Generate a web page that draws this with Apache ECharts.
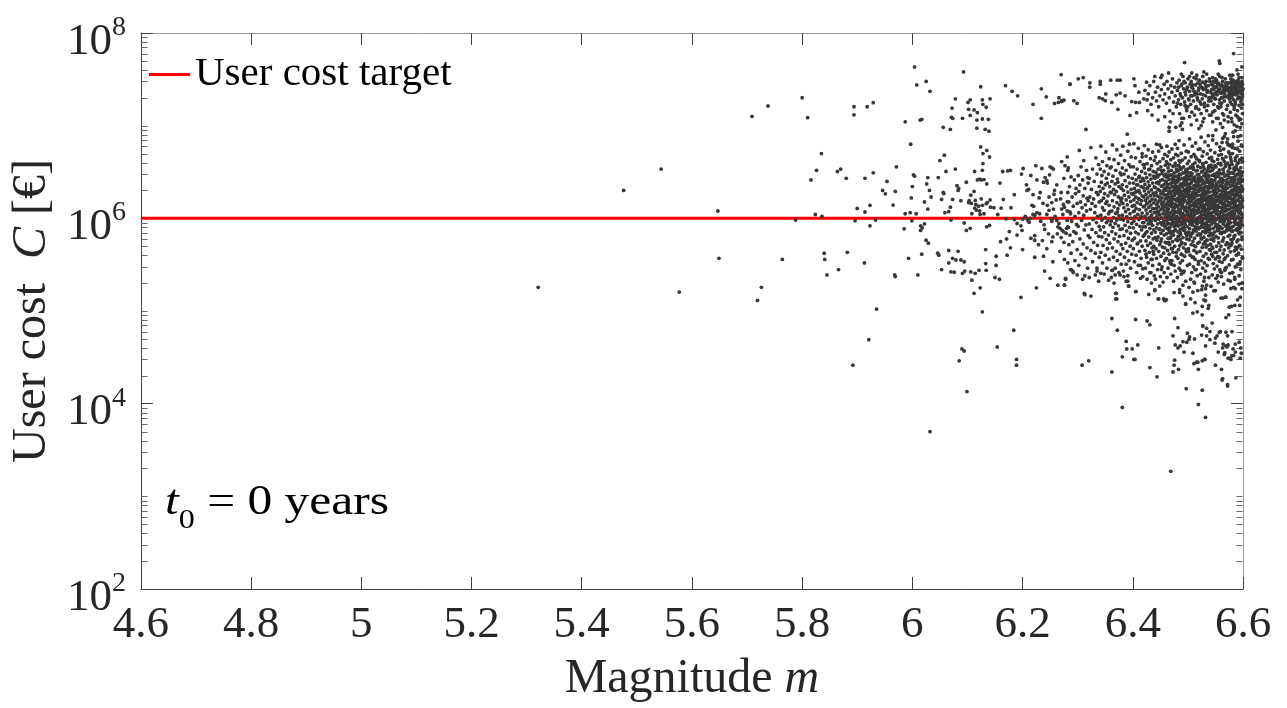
<!DOCTYPE html>
<html>
<head>
<meta charset="utf-8">
<title>User cost vs magnitude</title>
<script src="https://cdn.jsdelivr.net/npm/echarts/dist/echarts.min.js"></script>
<style>
  html, body { margin: 0; padding: 0; background: #ffffff; }
  #chart { width: 1287px; height: 708px; }
</style>
</head>
<body>
<div id="chart"></div>
<script>
// ---- axis settings ----
const magnitudeRange = [4.6, 6.6];
const magnitudeStep = 0.2;
const costRange = [1e2, 1e8];
const costLabelStepDecades = 2;
const minorTickMantissas = [1, 2, 3, 4, 5, 6, 7, 8, 9];
const minorTickDecades = [2, 3, 4, 5, 6, 7];

// ---- target line ----
const targetCost = 1e6;

// ---- simulated events: [magnitude m, user cost C in €] ----
const sparseLeft = [
  [5.321,1.8e5],[5.476,2.0e6],[5.544,3.4e6],[5.577,1.6e5],[5.647,1.2e6],[5.649,3.7e5],[5.709,1.26e7],[5.738,1.63e7],
  [5.726,1.8e5],[5.719,1.3e5],[5.764,3.6e5],[5.788,9.6e5],[5.800,2.0e7],[5.810,1.22e7],[5.835,5.0e6],[5.816,2.6e6],
  [5.826,3.3e6],[5.824,1.1e6],[5.836,1.05e6],[5.840,4.2e5],[5.841,3.6e5],[5.845,2.45e5],[5.866,2.8e5],[5.882,4.3e5],
  [5.913,3.3e5],[5.892,2.6e4],[5.921,4.9e4],[5.935,1.05e5],[5.968,2.45e5],[5.969,2.35e5],[5.864,3.2e6],[5.870,3.4e6],
  [5.880,2.7e6],[5.894,1.6e7],[5.894,1.31e7],[5.918,1.6e7],[5.929,1.77e7],[5.914,2.7e6],[5.929,3.1e6],[5.900,1.28e6],
  [5.914,1.17e6],[5.923,1.38e6],[5.896,9.4e5],[5.923,8.3e5],[5.933,9.6e5],[5.954,2.5e6],[5.946,2.0e6],[5.951,1.84e6],
  [5.969,1.95e6],[5.965,1.39e6],[5.971,3.6e6]
];

const midScatter = [
  [6.004,4.3e7],[6.008,2.75e7],[6.025,3.0e7],[6.032,2.35e7],[6.093,3.8e7],[5.987,1.1e7],[6.014,1.15e7],[6.017,1.17e7],
  [5.997,6.3e6],[5.987,1.12e6],[5.996,1.15e6],[6.007,1.12e6],[6.002,2.95e6],[6.004,2.85e6],[6.000,2.2e6],[5.998,1.66e6],
  [6.028,2.75e6],[6.026,2.35e6],[6.031,2.0e6],[6.034,1.7e6],[6.022,1.5e6],[6.028,1.26e6],[6.050,4.2e6],[6.058,4.8e6],
  [6.047,2.75e6],[6.061,3.2e6],[6.056,1.9e6],[6.057,1.85e6],[6.053,1.6e6],[6.059,1.15e6],[6.066,1.18e6],[6.069,1.32e6],
  [6.073,1.6e6],[6.078,3.4e6],[6.081,2.25e6],[6.084,2.1e6],[6.083,2.0e6],[6.088,1.55e6],[6.098,2.45e6],[6.078,1.95e7],
  [6.072,1.55e7],[6.071,1.23e7],[6.073,1.2e7],[6.056,9.6e6],[6.069,9.1e6],[6.091,1.2e7],[6.101,1.78e7],[6.105,1.9e7],
  [6.102,1.5e7],[6.105,1.29e7],[6.112,1.48e7],[6.118,1.38e7],[6.124,2.63e7],[6.127,1.9e7],[6.141,1.95e7],[6.128,1.7e7],
  [6.134,1.58e7],[6.117,1.15e7],[6.127,1.18e7],[6.138,1.17e7],[6.117,9.4e6],[6.132,9.1e6],[6.139,8.7e6],[6.124,5.9e6],
  [6.128,5.0e6],[6.135,5.4e6],[6.140,4.6e6],[6.128,3.9e6],[6.127,3.3e6],[6.113,3.2e6],[6.118,2.6e6],[6.122,2.65e6],
  [6.125,2.6e6],[6.130,2.62e6],[6.135,2.35e6],[6.112,1.95e6],[6.106,1.78e6],[6.103,1.55e6],[6.114,1.56e6],[6.115,1.41e6],
  [6.102,1.48e6],[6.107,1.45e6],[6.113,1.29e6],[6.116,1.23e6],[6.125,1.62e6],[6.136,1.48e6],[6.141,1.58e6],[6.120,1.35e6],
  [6.127,1.38e6],[6.122,1.2e6],[6.130,1.12e6],[6.123,1.1e6],[6.108,1.12e6],[6.142,1.32e6],[6.134,1.44e6],[6.159,2.4e6],
  [6.164,3.2e6],[6.173,3.25e6],[6.178,3.3e6],[6.161,1.29e6],[6.169,2.7e7],[6.181,2.35e7],[6.191,2.1e7],[6.198,3.0e6],
  [6.201,3.45e6],[6.179,1.3e6],[6.208,2.0e6],[6.211,2.05e6],[6.215,2.9e6],[6.219,1.8e6],[6.217,1.38e6],[6.220,1.35e6],
  [6.219,1.7e7],[6.234,2.5e7],[6.234,1.2e7],[6.243,2.05e7],[6.258,1.74e7],[6.265,1.78e7],[6.271,1.82e7],[6.275,1.88e7],
  [6.266,2.0e7],[6.270,3.55e7],[6.286,2.8e7],[6.224,3.7e6],[6.235,3.45e6],[6.250,3.6e6],[6.253,3.5e6],[6.256,3.4e6],
  [6.249,2.95e6],[6.241,2.75e6],[6.244,2.55e6],[6.245,2.4e6],[6.238,2.45e6],[6.271,4.1e6],[6.277,3.7e6],[6.282,3.3e6],
  [6.258,2.0e6],[6.257,1.82e6],[6.270,1.9e6],[6.230,1.66e6],[6.245,1.38e6],[6.237,1.45e6],[6.253,1.48e6],[6.256,1.26e6],
  [6.261,1.58e6],[6.274,1.41e6],[6.276,1.32e6],[6.281,1.51e6],[6.271,1.26e6],[6.286,1.17e6],[6.219,1.1e6],[6.222,1.08e6],
  [6.231,1.12e6],[6.244,1.1e6],[6.253,9.8e5],
  [5.985,7.7e5],[5.999,9.4e5],[6.015,8.3e5],[6.018,7.9e5],[6.015,7.4e5],[6.022,8.7e5],[6.025,5.8e5],[6.029,5.4e5],
  [5.993,3.7e5],[6.017,4.1e5],[6.010,2.45e5],[6.046,4.2e5],[6.048,4.0e5],[6.053,2.8e5],[6.066,4.5e5],[6.073,3.7e5],
  [6.079,3.55e5],[6.066,3.3e5],[6.083,4.4e5],[6.088,3.55e5],[6.094,3.4e5],[6.070,2.65e5],[6.076,2.62e5],[6.091,2.55e5],
  [6.095,2.7e5],[6.106,2.65e5],[6.114,2.55e5],[6.121,2.75e5],[6.108,2.15e5],[6.112,1.55e5],[6.123,1.78e5],[6.133,4.6e5],
  [6.133,3.25e5],[6.134,2.75e5],[6.127,9.8e4],[6.094,8.9e5],[6.098,7.4e5],[6.105,7.8e5],[6.135,8.1e5],[6.140,8.4e5],
  [6.070,9.6e5],[6.152,3.9e5],[6.152,3.1e5],[6.150,2.3e5],[6.158,2.2e5],[6.171,6.0e5],[6.172,4.0e5],[6.178,4.8e5],
  [6.190,6.6e5],[6.197,8.3e5],[6.199,7.4e5],[6.200,4.6e5],[6.197,1.4e5],[6.184,6.2e4],[6.154,4.1e4],[6.090,3.9e4],
  [6.094,3.7e4],[6.085,2.9e4],[6.099,1.35e4],[6.189,3.0e4],[6.189,2.6e4],[6.170,9.9e5],[6.185,9.7e5],[6.200,9.8e5],
  [6.209,9.6e5],[6.214,1.0e6],[6.222,6.5e5],[6.222,5.8e5],[6.236,5.75e5],[6.239,8.5e5],[6.222,3.8e5],[6.238,3.9e5],
  [6.240,2.7e5],[6.225,1.78e5],[6.247,6.8e5],[6.255,6.3e5],[6.253,5.6e5],[6.250,2.25e5],[6.264,1.9e5],[6.276,1.9e5],
  [6.278,2.25e5],[6.264,8.1e5],[6.268,7.8e5],[6.272,7.4e5],[6.274,7.2e5],[6.279,6.9e5],[6.270,6.2e5],[6.275,5.5e5],
  [6.282,8.1e5],[6.287,2.8e5],[6.253,9.3e5],[6.262,9.5e5],[6.281,9.5e5],[6.032,5.0e3],
  [6.205,1.05e6],[6.212,9.1e5],[6.226,1.15e6],[6.233,9.3e5],[6.248,1.22e6],[6.259,1.05e6],[6.266,8.8e5],[6.273,1.1e6],
  [6.240,7.6e5],[6.263,6.8e5],[6.280,7.8e5],[6.215,6.1e5],[6.229,5.2e5],[6.244,4.7e5],[6.268,4.4e5],[6.276,3.6e5],
  [6.255,3.4e5],[6.207,2.3e6],[6.226,2.6e6],[6.262,2.3e6],[6.275,2.7e6],[6.269,1.62e6],[6.248,1.7e6],[6.232,1.9e6],
  [6.155,1.1e6],[6.165,1.6e6],[6.185,1.8e6],[6.190,8.8e5],[6.176,7.2e5],[6.148,1.3e6],[6.160,5.6e5]
];

const upperBand = [
  [6.286,2.8e7],[6.301,3.2e7],[6.310,3.3e7],[6.322,2.9e7],[6.322,2.6e7],[6.341,3.0e7],[6.341,2.8e7],[6.360,3.1e7],
  [6.372,3.1e7],[6.377,3.1e7],[6.351,2.2e7],[6.339,2.0e7],[6.345,1.95e7],[6.350,1.86e7],[6.362,1.78e7],[6.370,2.15e7],
  [6.377,2.25e7],[6.386,2.1e7],[6.373,1.5e7],[6.395,1.29e7],[6.407,1.38e7],[6.315,9.1e6],[6.390,8.1e6],[6.394,6.3e6],
  [6.293,1.86e7],[6.299,1.74e7],[6.271,1.86e7],[6.402,3.2e7],[6.404,2.7e7],[6.411,2.3e7],[6.425,2.95e7],[6.398,1.82e7],
  [6.405,1.78e7],[6.412,1.78e7],[6.420,1.95e7],
  [6.422,2.4e7],[6.426,1.9e7],[6.428,2.2e7],[6.431,2.7e7],[6.433,1.7e7],[6.436,2.0e7],[6.438,3.0e7],[6.441,2.3e7],
  [6.443,1.85e7],[6.445,2.6e7],[6.447,1.6e7],[6.449,2.1e7],[6.451,3.3e7],[6.452,2.45e7],[6.455,1.9e7],[6.457,2.8e7],
  [6.458,2.2e7],[6.461,1.75e7],[6.462,3.0e7],[6.464,2.5e7],[6.466,2.0e7],[6.467,1.45e7],[6.469,2.7e7],[6.471,2.3e7],
  [6.472,3.2e7],[6.474,1.8e7],[6.476,2.6e7],[6.477,2.1e7],[6.479,1.6e7],[6.480,2.9e7],[6.435,1.3e7],[6.446,1.15e7],
  [6.458,1.25e7],[6.468,1.1e7],[6.473,1.35e7],[6.478,9.6e6],[6.465,3.7e7],[6.453,3.5e7],[6.427,1.45e7],[6.440,3.4e7],
  [6.449,6.2e6],[6.477,6.3e6],[6.466,9.6e6],[6.466,8.7e6],[6.489,1.07e7],[6.486,1.0e7],[6.490,9.1e6],[6.489,1.2e7],
  [6.506,1.02e7],[6.520,9.3e6],[6.524,1.0e7],[6.527,1.1e7],[6.537,7.8e6],[6.545,7.8e6],[6.563,9.6e6],[6.562,6.6e6],
  [6.575,6.2e6],[6.581,6.3e6],[6.581,5.8e6],[6.598,6.0e6],[6.579,1.2e7],[6.584,1.02e7],[6.589,9.8e6],[6.593,1.15e7],
  [6.596,1.17e7],
  [6.494,4.8e7],[6.557,5.0e7],[6.558,4.7e7],[6.583,6.0e7],[6.529,3.8e7],[6.598,4.3e7],[6.581,3.5e7],
  [6.481,2.4e7],[6.483,1.9e7],[6.484,3.1e7],[6.486,2.2e7],[6.487,1.7e7],[6.488,2.7e7],[6.490,2.0e7],[6.491,3.4e7],
  [6.492,2.5e7],[6.494,1.8e7],[6.495,2.9e7],[6.496,2.15e7],[6.497,1.55e7],[6.499,2.6e7],[6.500,3.2e7],[6.501,1.95e7],
  [6.503,2.35e7],[6.504,2.8e7],[6.505,1.7e7],[6.506,3.0e7],[6.508,2.1e7],[6.509,2.5e7],[6.510,1.85e7],[6.511,3.3e7],
  [6.513,2.3e7],[6.514,2.75e7],[6.515,1.6e7],[6.517,2.0e7],[6.518,2.9e7],[6.519,2.4e7],[6.521,3.1e7],[6.522,1.8e7],
  [6.523,2.2e7],[6.525,2.6e7],[6.526,1.95e7],[6.527,3.4e7],[6.528,2.45e7],[6.530,1.75e7],[6.531,2.85e7],[6.532,2.1e7],
  [6.533,3.0e7],[6.535,2.3e7],[6.536,1.65e7],[6.537,2.7e7],[6.538,2.0e7],[6.539,3.2e7],[6.485,1.35e7],[6.492,1.2e7],
  [6.498,1.45e7],[6.503,1.25e7],[6.507,1.4e7],[6.512,1.3e7],[6.516,1.15e7],[6.520,1.5e7],[6.524,1.35e7],[6.529,1.2e7],
  [6.534,1.45e7],[6.539,1.3e7],[6.488,3.6e7],[6.507,3.7e7],[6.516,3.5e7],[6.534,3.6e7],[6.495,2.3e7],[6.512,2.15e7],
  [6.526,2.55e7],[6.500,1.6e7],
  [6.541,2.3e7],[6.542,1.85e7],[6.543,2.8e7],[6.544,2.05e7],[6.545,3.3e7],[6.546,2.5e7],[6.547,1.7e7],[6.548,2.2e7],
  [6.549,2.95e7],[6.550,1.95e7],[6.551,2.6e7],[6.552,3.1e7],[6.553,2.15e7],[6.554,1.6e7],[6.555,2.4e7],[6.556,2.85e7],
  [6.557,1.9e7],[6.558,3.4e7],[6.559,2.25e7],[6.560,2.7e7],[6.561,1.75e7],[6.562,2.0e7],[6.563,3.0e7],[6.564,2.4e7],
  [6.565,2.6e7],[6.566,1.85e7],[6.567,2.2e7],[6.568,3.2e7],[6.569,2.75e7],[6.570,2.05e7],[6.571,2.45e7],[6.572,1.65e7],
  [6.573,2.9e7],[6.574,2.1e7],[6.575,2.55e7],[6.576,3.5e7],[6.577,1.8e7],[6.578,2.3e7],[6.579,2.8e7],[6.580,2.0e7],
  [6.581,2.6e7],[6.582,3.1e7],[6.583,1.9e7],[6.584,2.35e7],[6.585,2.7e7],[6.586,1.7e7],[6.587,2.15e7],[6.588,3.0e7],
  [6.589,2.5e7],[6.590,1.95e7],[6.591,2.25e7],[6.592,2.85e7],[6.593,3.3e7],[6.594,2.0e7],[6.595,2.4e7],[6.596,1.8e7],
  [6.597,2.65e7],[6.598,3.0e7],[6.599,2.2e7],[6.600,2.5e7],
  [6.542,1.3e7],[6.545,1.1e7],[6.549,1.45e7],[6.552,1.2e7],[6.556,1.55e7],[6.559,1.05e7],[6.563,1.35e7],[6.566,1.15e7],
  [6.570,1.5e7],[6.573,1.25e7],[6.577,1.4e7],[6.580,1.1e7],[6.584,1.6e7],[6.587,1.3e7],[6.590,1.45e7],[6.593,1.2e7],
  [6.597,1.55e7],[6.599,1.35e7],[6.551,9.0e6],[6.568,8.2e6],[6.586,8.8e6],[6.595,9.5e6],[6.572,7.2e6],[6.591,7.6e6],
  [6.543,2.45e7],[6.547,2.1e7],[6.551,2.3e7],[6.554,2.75e7],[6.558,2.5e7],[6.561,2.25e7],[6.565,2.05e7],[6.568,2.4e7],
  [6.572,2.6e7],[6.575,2.2e7],[6.579,2.45e7],[6.583,2.2e7],[6.586,2.5e7],[6.590,2.35e7],[6.594,2.6e7],[6.597,2.2e7],
  [6.599,2.8e7],[6.546,3.0e7],[6.562,3.3e7],[6.578,3.2e7],[6.591,3.6e7],[6.555,3.6e7],[6.589,4.0e7]
];

const bandExtra = [
  [6.483,2.6e7],[6.517,2.2e7],[6.546,2.7e7],[6.574,2.35e7],[6.596,2.9e7],[6.502,1.9e7],[6.531,2.5e7],[6.561,2.0e7],
  [6.588,2.6e7],[6.493,3.0e7],[6.524,1.7e7],[6.553,2.9e7],[6.581,2.15e7],[6.599,2.4e7],[6.509,2.75e7],[6.538,1.85e7],
  [6.567,2.55e7],[6.592,2.05e7],[6.487,2.1e7],[6.515,3.2e7],[6.544,2.2e7],[6.572,2.85e7],[6.586,1.8e7],[6.498,2.45e7],
  [6.527,2.95e7],[6.556,2.35e7],[6.579,3.0e7],[6.594,2.7e7],[6.505,2.1e7],[6.533,2.65e7],[6.562,2.75e7],[6.589,2.25e7],
  [6.481,1.75e7],[6.520,2.55e7],[6.549,1.95e7],[6.577,2.1e7],[6.598,3.3e7],[6.511,2.35e7],[6.540,3.0e7],[6.569,2.9e7],
  [6.585,2.9e7],[6.495,1.65e7],[6.528,2.15e7],[6.558,1.75e7],[6.583,2.5e7],[6.597,1.9e7],[6.503,3.4e7],[6.535,2.4e7],
  [6.564,2.3e7],[6.591,3.1e7],[6.514,1.55e7],[6.547,2.45e7],[6.575,1.95e7],[6.599,2.05e7],[6.489,2.8e7],[6.522,2.8e7],
  [6.552,2.6e7],[6.580,1.7e7],[6.595,2.3e7],[6.507,2.6e7],[6.542,2.0e7],[6.570,2.7e7],[6.588,2.8e7],[6.518,1.9e7],
  [6.550,3.2e7],[6.577,2.55e7],[6.593,1.65e7],[6.530,1.6e7],[6.560,1.6e7],[6.584,1.5e7],[6.599,1.7e7],[6.565,1.3e7],
  [6.545,1.4e7],[6.590,1.25e7],[6.573,1.1e7],[6.598,1.05e7],[6.555,1.2e7],[6.582,8.5e6],[6.596,7.8e6],[6.566,7.6e6]
];

const coreCloud = [
  [6.281,4.6e6],[6.283,3.5e6],[6.288,2.8e6],[6.285,2.2e6],[6.294,2.6e6],[6.297,2.1e6],[6.282,1.9e6],[6.290,1.7e6],
  [6.296,1.85e6],[6.284,1.5e6],[6.292,1.35e6],[6.299,1.45e6],[6.287,1.12e6],[6.295,1.05e6],[6.281,1.2e6],[6.289,9.3e5],
  [6.298,8.6e5],[6.283,8.0e5],[6.293,7.2e5],[6.286,6.6e5],[6.297,6.9e5],[6.291,5.6e5],[6.284,5.2e5],[6.299,4.6e5],
  [6.288,4.2e5],[6.295,3.5e5],[6.282,3.3e5],[6.292,2.6e5],
  [6.303,5.4e6],[6.311,4.2e6],[6.306,3.6e6],[6.316,3.3e6],[6.301,2.9e6],[6.309,2.6e6],[6.318,2.75e6],[6.304,2.3e6],
  [6.313,2.1e6],[6.319,2.4e6],[6.302,1.95e6],[6.310,1.75e6],[6.317,1.65e6],[6.305,1.5e6],[6.314,1.4e6],[6.308,1.3e6],
  [6.319,1.55e6],[6.302,1.15e6],[6.311,1.08e6],[6.316,1.2e6],[6.307,9.5e5],[6.315,8.5e5],[6.301,8.2e5],[6.312,7.5e5],
  [6.319,6.5e5],[6.304,6.0e5],[6.310,5.3e5],[6.317,4.8e5],[6.306,4.1e5],[6.314,3.7e5],[6.302,3.1e5],[6.318,2.9e5],
  [6.309,2.2e5],
  [6.324,5.8e6],[6.333,4.5e6],[6.338,3.8e6],[6.327,3.4e6],[6.335,3.0e6],[6.321,2.7e6],[6.330,2.5e6],[6.339,2.2e6],
  [6.325,2.05e6],[6.334,1.9e6],[6.322,1.7e6],[6.329,1.62e6],[6.337,1.8e6],[6.326,1.45e6],[6.332,1.35e6],[6.339,1.5e6],
  [6.323,1.25e6],[6.331,1.15e6],[6.336,1.05e6],[6.328,9.7e5],[6.334,9.0e5],[6.321,8.7e5],[6.339,8.2e5],[6.326,7.6e5],
  [6.333,7.0e5],[6.338,6.4e5],[6.322,6.2e5],[6.329,5.5e5],[6.336,5.1e5],[6.324,4.5e5],[6.332,4.2e5],[6.339,3.8e5],
  [6.327,3.4e5],[6.335,2.7e5],[6.321,2.3e5],[6.338,2.1e5],
  [6.342,6.0e6],[6.351,5.2e6],[6.357,4.4e6],[6.345,4.1e6],[6.353,3.7e6],[6.341,3.4e6],[6.348,3.2e6],[6.359,3.5e6],
  [6.344,2.9e6],[6.352,2.7e6],[6.356,3.0e6],[6.343,2.45e6],[6.350,2.3e6],[6.358,2.2e6],[6.346,2.1e6],[6.354,2.4e6],
  [6.341,1.95e6],[6.349,1.85e6],[6.355,1.75e6],[6.347,1.65e6],[6.359,1.9e6],[6.343,1.55e6],[6.351,1.45e6],[6.357,1.38e6],
  [6.345,1.3e6],[6.353,1.52e6],[6.348,1.22e6],[6.356,1.12e6],[6.342,1.08e6],[6.350,1.02e6],[6.358,1.18e6],[6.344,9.6e5],
  [6.352,9.0e5],[6.359,8.5e5],[6.347,8.1e5],[6.355,9.4e5],[6.341,7.5e5],[6.349,7.0e5],[6.356,6.6e5],[6.344,6.3e5],
  [6.352,5.9e5],[6.358,5.4e5],[6.346,5.1e5],[6.354,4.7e5],[6.342,4.3e5],[6.350,4.0e5],[6.357,3.6e5],[6.345,3.3e5],
  [6.353,2.9e5],[6.348,2.5e5],[6.356,2.15e5],
  [6.363,6.2e6],[6.371,5.5e6],[6.378,4.8e6],[6.366,4.3e6],[6.374,3.9e6],[6.361,3.6e6],[6.369,3.3e6],[6.377,3.1e6],
  [6.364,2.85e6],[6.372,2.65e6],[6.379,2.95e6],[6.362,2.5e6],[6.368,2.35e6],[6.375,2.2e6],[6.365,2.05e6],[6.373,2.45e6],
  [6.379,2.1e6],[6.361,1.9e6],[6.367,1.8e6],[6.374,1.7e6],[6.370,1.95e6],[6.378,1.62e6],[6.363,1.55e6],[6.371,1.48e6],
  [6.376,1.4e6],[6.366,1.33e6],[6.373,1.27e6],[6.379,1.52e6],[6.362,1.2e6],[6.369,1.13e6],[6.375,1.07e6],[6.365,1.02e6],
  [6.372,1.17e6],[6.378,9.8e5],[6.361,9.3e5],[6.368,8.8e5],[6.374,8.3e5],[6.364,8.0e5],[6.371,9.6e5],[6.377,7.6e5],
  [6.362,7.2e5],[6.369,6.8e5],[6.376,6.4e5],[6.366,6.0e5],[6.373,5.6e5],[6.379,5.2e5],[6.363,4.8e5],[6.370,4.4e5],
  [6.377,4.1e5],[6.365,3.8e5],[6.372,3.5e5],[6.379,3.2e5],[6.368,2.9e5],[6.375,2.6e5],[6.361,2.3e5],
  [6.382,6.0e6],[6.391,5.3e6],[6.397,4.6e6],[6.385,4.2e6],[6.393,3.8e6],[6.381,3.5e6],[6.388,3.3e6],[6.396,3.6e6],
  [6.384,3.0e6],[6.392,2.8e6],[6.399,2.7e6],[6.386,2.55e6],[6.394,2.4e6],[6.381,2.3e6],[6.389,2.2e6],[6.397,2.05e6],
  [6.383,2.0e6],[6.391,1.92e6],[6.398,1.85e6],[6.385,1.78e6],[6.393,1.7e6],[6.380,1.65e6],[6.388,1.58e6],[6.396,1.52e6],
  [6.382,1.45e6],[6.390,1.4e6],[6.399,1.35e6],[6.384,1.3e6],[6.392,1.25e6],[6.387,1.18e6],[6.395,1.12e6],[6.381,1.08e6],
  [6.389,1.04e6],[6.397,1.0e6],[6.383,9.6e5],[6.391,9.2e5],[6.398,8.8e5],[6.386,8.4e5],[6.394,8.0e5],[6.381,7.7e5],
  [6.389,7.3e5],[6.396,6.9e5],[6.384,6.5e5],[6.392,6.1e5],[6.399,5.8e5],[6.387,5.4e5],[6.395,5.0e5],[6.382,4.7e5],
  [6.390,4.4e5],[6.398,4.1e5],[6.385,3.8e5],[6.393,3.5e5],[6.388,3.2e5],[6.396,2.9e5],[6.383,2.7e5],[6.391,2.4e5],
  [6.402,6.4e6],[6.410,5.7e6],[6.417,5.0e6],[6.405,4.5e6],[6.413,4.1e6],[6.419,3.8e6],[6.401,3.6e6],[6.408,3.4e6],
  [6.416,3.2e6],[6.404,3.0e6],[6.412,2.85e6],[6.418,2.7e6],[6.406,2.6e6],[6.414,2.5e6],[6.401,2.4e6],[6.409,2.3e6],
  [6.415,2.2e6],[6.403,2.1e6],[6.411,2.0e6],[6.419,2.15e6],[6.407,1.95e6],[6.413,1.88e6],[6.400,1.82e6],[6.417,1.75e6],
  [6.405,1.7e6],[6.410,1.64e6],[6.402,1.58e6],[6.416,1.55e6],[6.408,1.48e6],[6.414,1.42e6],[6.403,1.38e6],[6.419,1.33e6],
  [6.406,1.28e6],[6.412,1.24e6],[6.401,1.18e6],[6.417,1.14e6],[6.409,1.1e6],[6.404,1.05e6],[6.415,1.02e6],[6.411,9.7e5],
  [6.402,9.3e5],[6.418,9.0e5],[6.407,8.6e5],[6.413,8.2e5],[6.401,7.9e5],[6.416,7.5e5],[6.405,7.1e5],[6.410,6.8e5],
  [6.419,6.4e5],[6.403,6.1e5],[6.414,5.7e5],[6.408,5.3e5],[6.417,5.0e5],[6.401,4.7e5],[6.412,4.4e5],[6.406,4.0e5],
  [6.415,3.7e5],[6.403,3.4e5],[6.410,3.1e5],[6.418,2.85e5],[6.407,2.6e5],[6.414,2.25e5],
  [6.421,6.1e6],[6.428,5.5e6],[6.436,5.2e6],[6.424,4.7e6],[6.432,4.4e6],[6.439,4.2e6],[6.426,3.9e6],[6.434,3.7e6],
  [6.421,3.5e6],[6.429,3.35e6],[6.437,3.2e6],[6.423,3.05e6],[6.431,2.95e6],[6.438,2.85e6],[6.425,2.75e6],[6.433,2.65e6],
  [6.420,2.55e6],[6.428,2.48e6],[6.436,2.4e6],[6.422,2.32e6],[6.430,2.25e6],[6.439,2.18e6],[6.426,2.1e6],[6.434,2.03e6],
  [6.421,1.98e6],[6.429,1.92e6],[6.437,1.87e6],[6.424,1.81e6],[6.432,1.76e6],[6.420,1.7e6],[6.427,1.66e6],[6.435,1.61e6],
  [6.423,1.56e6],[6.431,1.52e6],[6.438,1.47e6],[6.425,1.43e6],[6.433,1.39e6],[6.421,1.35e6],[6.429,1.31e6],[6.436,1.27e6],
  [6.424,1.23e6],[6.432,1.19e6],[6.439,1.15e6],[6.426,1.12e6],[6.434,1.08e6],[6.422,1.05e6],[6.430,1.02e6],[6.437,9.9e5],
  [6.425,9.6e5],[6.433,9.3e5],[6.420,9.0e5],[6.428,8.7e5],[6.436,8.4e5],[6.423,8.1e5],[6.431,7.8e5],[6.438,7.5e5],
  [6.426,7.2e5],[6.434,6.9e5],[6.421,6.6e5],[6.429,6.3e5],[6.437,6.0e5],[6.424,5.7e5],[6.432,5.4e5],[6.427,5.1e5],
  [6.435,4.8e5],[6.422,4.5e5],[6.430,4.3e5],[6.438,4.1e5],[6.425,3.8e5],[6.433,3.6e5],[6.428,3.3e5],[6.436,3.1e5],
  [6.423,2.9e5],[6.431,2.6e5],[6.439,2.4e5],[6.426,2.2e5],[6.434,2.0e5],
  [6.443,6.3e6],[6.452,5.8e6],[6.447,5.3e6],[6.458,4.9e6],[6.441,4.6e6],[6.455,4.4e6],[6.449,4.1e6],[6.444,3.9e6],
  [6.459,3.75e6],[6.451,3.6e6],[6.446,3.4e6],[6.456,3.3e6],[6.442,3.15e6],[6.453,3.05e6],[6.448,2.95e6],[6.457,2.88e6],
  [6.445,2.8e6],[6.440,2.7e6],[6.454,2.62e6],[6.450,2.55e6],[6.459,2.5e6],[6.443,2.42e6],[6.447,2.36e6],[6.456,2.3e6],
  [6.452,2.22e6],[6.441,2.15e6],[6.458,2.1e6],[6.446,2.05e6],[6.449,1.99e6],[6.455,1.94e6],[6.442,1.9e6],[6.451,1.84e6],
  [6.457,1.8e6],[6.444,1.75e6],[6.448,1.7e6],[6.453,1.66e6],[6.459,1.62e6],[6.441,1.58e6],[6.450,1.55e6],[6.456,1.5e6],
  [6.445,1.47e6],[6.452,1.43e6],[6.443,1.4e6],[6.458,1.37e6],[6.447,1.33e6],[6.454,1.3e6],[6.440,1.27e6],[6.451,1.24e6],
  [6.457,1.21e6],[6.446,1.18e6],[6.442,1.15e6],[6.455,1.12e6],[6.449,1.09e6],[6.444,1.06e6],[6.459,1.04e6],[6.452,1.01e6],
  [6.447,9.8e5],[6.441,9.5e5],[6.456,9.3e5],[6.450,9.0e5],[6.445,8.7e5],[6.453,8.5e5],[6.458,8.2e5],[6.443,7.9e5],
  [6.448,7.6e5],[6.455,7.4e5],[6.441,7.1e5],[6.451,6.9e5],[6.457,6.6e5],[6.446,6.3e5],[6.452,6.0e5],[6.444,5.8e5],
  [6.459,5.5e5],[6.449,5.2e5],[6.454,4.9e5],[6.442,4.7e5],[6.447,4.4e5],[6.456,4.2e5],[6.451,3.9e5],[6.443,3.7e5],
  [6.458,3.5e5],[6.448,3.2e5],[6.453,3.0e5],[6.445,2.8e5],[6.457,2.6e5],[6.450,2.35e5],[6.441,2.2e5],[6.455,2.05e5],
  [6.462,6.0e6],[6.471,5.6e6],[6.466,5.2e6],[6.478,4.9e6],[6.463,4.7e6],[6.474,4.5e6],[6.469,4.3e6],[6.461,4.1e6],
  [6.477,3.95e6],[6.467,3.8e6],[6.473,3.65e6],[6.464,3.5e6],[6.479,3.4e6],[6.470,3.3e6],[6.465,3.2e6],[6.475,3.1e6],
  [6.460,3.0e6],[6.468,2.92e6],[6.476,2.85e6],[6.463,2.78e6],[6.472,2.7e6],[6.466,2.63e6],[6.479,2.57e6],[6.461,2.5e6],
  [6.474,2.44e6],[6.469,2.38e6],[6.464,2.32e6],[6.477,2.27e6],[6.471,2.21e6],[6.462,2.16e6],[6.467,2.11e6],[6.475,2.06e6],
  [6.460,2.01e6],[6.473,1.97e6],[6.465,1.93e6],[6.478,1.88e6],[6.469,1.84e6],[6.463,1.8e6],[6.476,1.76e6],[6.471,1.72e6],
  [6.466,1.68e6],[6.461,1.64e6],[6.474,1.61e6],[6.468,1.57e6],[6.479,1.54e6],[6.464,1.5e6],[6.472,1.47e6],[6.462,1.44e6],
  [6.477,1.41e6],[6.467,1.38e6],[6.470,1.35e6],[6.460,1.32e6],[6.475,1.29e6],[6.465,1.26e6],[6.473,1.23e6],[6.463,1.2e6],
  [6.478,1.18e6],[6.469,1.15e6],[6.461,1.12e6],[6.474,1.1e6],[6.466,1.07e6],[6.471,1.05e6],[6.464,1.02e6],[6.476,1.0e6],
  [6.468,9.8e5],[6.462,9.5e5],[6.479,9.3e5],[6.472,9.1e5],[6.465,8.8e5],[6.470,8.6e5],[6.460,8.4e5],[6.475,8.2e5],
  [6.467,7.9e5],[6.463,7.7e5],[6.477,7.5e5],[6.471,7.2e5],[6.466,7.0e5],[6.461,6.8e5],[6.474,6.6e5],[6.469,6.3e5],
  [6.464,6.1e5],[6.478,5.9e5],[6.472,5.6e5],[6.462,5.4e5],[6.467,5.2e5],[6.476,5.0e5],[6.470,4.7e5],[6.463,4.5e5],
  [6.473,4.3e5],[6.466,4.1e5],[6.479,3.9e5],[6.461,3.7e5],[6.471,3.5e5],[6.468,3.3e5],[6.475,3.1e5],[6.464,2.9e5],
  [6.477,2.7e5],[6.469,2.5e5],[6.462,2.3e5],[6.474,2.1e5],
  [6.484,6.9e6],[6.493,6.2e6],[6.481,5.7e6],[6.497,5.3e6],[6.488,5.05e6],[6.482,4.75e6],[6.495,4.5e6],[6.490,4.25e6],
  [6.486,4.05e6],[6.499,3.9e6],[6.483,3.72e6],[6.492,3.58e6],[6.487,3.44e6],[6.496,3.31e6],[6.480,3.2e6],[6.491,3.1e6],
  [6.485,3.0e6],[6.498,2.92e6],[6.482,2.83e6],[6.494,2.75e6],[6.489,2.68e6],[6.484,2.6e6],[6.497,2.53e6],[6.481,2.47e6],
  [6.492,2.41e6],[6.487,2.35e6],[6.495,2.29e6],[6.483,2.23e6],[6.490,2.18e6],[6.499,2.13e6],[6.485,2.08e6],[6.494,2.03e6],
  [6.480,1.99e6],[6.488,1.94e6],[6.496,1.9e6],[6.482,1.86e6],[6.491,1.82e6],[6.486,1.78e6],[6.498,1.74e6],[6.484,1.7e6],
  [6.493,1.67e6],[6.481,1.63e6],[6.489,1.6e6],[6.495,1.56e6],[6.483,1.53e6],[6.492,1.5e6],[6.487,1.47e6],[6.499,1.44e6],
  [6.485,1.41e6],[6.490,1.38e6],[6.481,1.35e6],[6.496,1.32e6],[6.488,1.29e6],[6.483,1.26e6],[6.494,1.23e6],[6.486,1.2e6],
  [6.498,1.18e6],[6.482,1.15e6],[6.491,1.12e6],[6.487,1.1e6],[6.495,1.07e6],[6.480,1.05e6],[6.489,1.02e6],[6.484,9.95e5],
  [6.497,9.7e5],[6.492,9.5e5],[6.485,9.25e5],[6.481,9.0e5],[6.494,8.8e5],[6.488,8.55e5],[6.483,8.3e5],[6.499,8.1e5],
  [6.490,7.85e5],[6.486,7.6e5],[6.493,7.4e5],[6.482,7.15e5],[6.496,6.9e5],[6.487,6.7e5],[6.484,6.45e5],[6.491,6.2e5],
  [6.498,6.0e5],[6.481,5.75e5],[6.489,5.5e5],[6.495,5.3e5],[6.485,5.05e5],[6.492,4.8e5],[6.483,4.6e5],[6.497,4.35e5],
  [6.488,4.1e5],[6.494,3.9e5],[6.482,3.7e5],[6.490,3.5e5],[6.486,3.3e5],[6.499,3.1e5],[6.484,2.9e5],[6.493,2.7e5],
  [6.488,2.5e5],[6.481,2.3e5],[6.496,2.1e5],[6.491,1.9e5],[6.485,1.7e5],
  [6.503,7.2e6],[6.514,6.5e6],[6.508,6.0e6],[6.519,5.55e6],[6.501,5.2e6],[6.511,4.9e6],[6.506,4.62e6],[6.516,4.38e6],
  [6.502,4.15e6],[6.513,3.97e6],[6.509,3.8e6],[6.518,3.65e6],[6.504,3.5e6],[6.510,3.37e6],[6.515,3.25e6],[6.500,3.14e6],
  [6.507,3.04e6],[6.517,2.95e6],[6.505,2.86e6],[6.512,2.78e6],[6.519,2.71e6],[6.502,2.64e6],[6.509,2.57e6],[6.514,2.5e6],
  [6.506,2.44e6],[6.518,2.38e6],[6.501,2.32e6],[6.511,2.26e6],[6.516,2.21e6],[6.504,2.16e6],[6.508,2.11e6],[6.513,2.06e6],
  [6.519,2.01e6],[6.503,1.97e6],[6.510,1.92e6],[6.515,1.88e6],[6.500,1.84e6],[6.507,1.8e6],[6.517,1.76e6],[6.505,1.72e6],
  [6.512,1.69e6],[6.502,1.65e6],[6.509,1.62e6],[6.518,1.58e6],[6.506,1.55e6],[6.514,1.52e6],[6.501,1.49e6],[6.511,1.46e6],
  [6.516,1.43e6],[6.504,1.4e6],[6.508,1.37e6],[6.513,1.34e6],[6.519,1.31e6],[6.503,1.28e6],[6.510,1.25e6],[6.515,1.22e6],
  [6.500,1.19e6],[6.507,1.17e6],[6.517,1.14e6],[6.505,1.11e6],[6.512,1.09e6],[6.502,1.06e6],[6.509,1.04e6],[6.518,1.01e6],
  [6.506,9.85e5],[6.514,9.6e5],[6.501,9.4e5],[6.511,9.15e5],[6.516,8.9e5],[6.504,8.65e5],[6.508,8.45e5],[6.513,8.2e5],
  [6.519,8.0e5],[6.503,7.75e5],[6.510,7.5e5],[6.515,7.3e5],[6.500,7.05e5],[6.507,6.8e5],[6.517,6.6e5],[6.505,6.35e5],
  [6.512,6.1e5],[6.502,5.9e5],[6.509,5.65e5],[6.518,5.4e5],[6.506,5.2e5],[6.514,4.95e5],[6.501,4.7e5],[6.511,4.5e5],
  [6.516,4.25e5],[6.504,4.0e5],[6.508,3.8e5],[6.513,3.6e5],[6.519,3.4e5],[6.503,3.2e5],[6.510,3.0e5],[6.515,2.8e5],
  [6.507,2.6e5],[6.517,2.4e5],[6.505,2.2e5],[6.512,2.0e5],[6.502,1.8e5],[6.509,1.6e5],
  [6.524,7.5e6],[6.531,6.7e6],[6.537,6.1e6],[6.522,5.6e6],[6.528,5.25e6],[6.535,4.95e6],[6.526,4.68e6],[6.539,4.45e6],
  [6.521,4.22e6],[6.533,4.02e6],[6.527,3.84e6],[6.538,3.68e6],[6.523,3.53e6],[6.530,3.4e6],[6.536,3.28e6],[6.525,3.17e6],
  [6.532,3.07e6],[6.520,2.98e6],[6.529,2.89e6],[6.538,2.81e6],[6.524,2.73e6],[6.534,2.66e6],[6.527,2.59e6],[6.521,2.52e6],
  [6.536,2.46e6],[6.531,2.4e6],[6.526,2.34e6],[6.539,2.28e6],[6.522,2.23e6],[6.533,2.18e6],[6.528,2.13e6],[6.537,2.08e6],
  [6.524,2.03e6],[6.530,1.99e6],[6.520,1.95e6],[6.535,1.9e6],[6.527,1.86e6],[6.532,1.82e6],[6.523,1.78e6],[6.538,1.74e6],
  [6.529,1.71e6],[6.525,1.67e6],[6.534,1.64e6],[6.521,1.6e6],[6.531,1.57e6],[6.536,1.54e6],[6.526,1.51e6],[6.539,1.48e6],
  [6.522,1.45e6],[6.533,1.42e6],[6.528,1.39e6],[6.537,1.36e6],[6.524,1.33e6],[6.530,1.3e6],[6.520,1.27e6],[6.535,1.24e6],
  [6.527,1.21e6],[6.532,1.185e6],[6.523,1.16e6],[6.538,1.13e6],[6.529,1.1e6],[6.525,1.08e6],[6.534,1.055e6],[6.521,1.03e6],
  [6.531,1.005e6],[6.536,9.8e5],[6.526,9.55e5],[6.539,9.3e5],[6.522,9.1e5],[6.533,8.85e5],[6.528,8.6e5],[6.537,8.4e5],
  [6.524,8.15e5],[6.530,7.9e5],[6.520,7.7e5],[6.535,7.45e5],[6.527,7.2e5],[6.532,7.0e5],[6.523,6.75e5],[6.538,6.5e5],
  [6.529,6.25e5],[6.525,6.0e5],[6.534,5.8e5],[6.521,5.55e5],[6.531,5.3e5],[6.536,5.1e5],[6.526,4.85e5],[6.539,4.6e5],
  [6.522,4.4e5],[6.533,4.15e5],[6.528,3.9e5],[6.537,3.7e5],[6.524,3.5e5],[6.530,3.3e5],[6.535,3.1e5],[6.527,2.9e5],
  [6.532,2.7e5],[6.523,2.5e5],[6.538,2.3e5],[6.529,2.1e5],[6.534,1.9e5],[6.525,1.7e5],
  [6.545,7.0e6],[6.552,6.4e6],[6.558,5.9e6],[6.541,5.45e6],[6.549,5.1e6],[6.556,4.8e6],[6.543,4.55e6],[6.554,4.32e6],
  [6.547,4.1e6],[6.559,3.92e6],[6.542,3.75e6],[6.551,3.6e6],[6.546,3.46e6],[6.557,3.33e6],[6.540,3.21e6],[6.553,3.1e6],
  [6.548,3.0e6],[6.544,2.91e6],[6.555,2.83e6],[6.550,2.75e6],[6.559,2.68e6],[6.542,2.61e6],[6.547,2.54e6],[6.556,2.48e6],
  [6.541,2.42e6],[6.552,2.36e6],[6.545,2.3e6],[6.558,2.25e6],[6.549,2.2e6],[6.543,2.15e6],[6.554,2.1e6],[6.550,2.05e6],
  [6.557,2.0e6],[6.546,1.96e6],[6.540,1.92e6],[6.553,1.88e6],[6.548,1.84e6],[6.559,1.8e6],[6.544,1.76e6],[6.551,1.73e6],
  [6.555,1.69e6],[6.542,1.66e6],[6.547,1.62e6],[6.556,1.59e6],[6.541,1.56e6],[6.552,1.53e6],[6.545,1.5e6],[6.558,1.47e6],
  [6.549,1.44e6],[6.543,1.41e6],[6.554,1.38e6],[6.550,1.35e6],[6.557,1.32e6],[6.546,1.29e6],[6.540,1.26e6],[6.553,1.23e6],
  [6.548,1.2e6],[6.559,1.175e6],[6.544,1.15e6],[6.551,1.12e6],[6.555,1.095e6],[6.542,1.07e6],[6.547,1.045e6],[6.556,1.02e6],
  [6.541,9.95e5],[6.552,9.7e5],[6.545,9.45e5],[6.558,9.2e5],[6.549,8.95e5],[6.543,8.7e5],[6.554,8.5e5],[6.550,8.25e5],
  [6.557,8.05e5],[6.546,7.8e5],[6.540,7.6e5],[6.553,7.35e5],[6.548,7.1e5],[6.559,6.9e5],[6.544,6.65e5],[6.551,6.4e5],
  [6.555,6.15e5],[6.542,5.95e5],[6.547,5.7e5],[6.556,5.45e5],[6.541,5.25e5],[6.552,5.0e5],[6.545,4.75e5],[6.558,4.55e5],
  [6.549,4.3e5],[6.543,4.1e5],[6.554,3.85e5],[6.550,3.65e5],[6.557,3.45e5],[6.546,3.25e5],[6.553,3.05e5],[6.548,2.85e5],
  [6.559,2.65e5],[6.544,2.45e5],[6.551,2.25e5],[6.555,2.05e5],[6.542,1.85e5],[6.547,1.65e5],
  [6.563,7.3e6],[6.571,6.6e6],[6.577,6.05e6],[6.565,5.6e6],[6.574,5.2e6],[6.561,4.88e6],[6.569,4.6e6],[6.578,4.36e6],
  [6.566,4.13e6],[6.572,3.94e6],[6.560,3.77e6],[6.568,3.62e6],[6.576,3.48e6],[6.564,3.35e6],[6.573,3.23e6],[6.579,3.12e6],
  [6.562,3.02e6],[6.570,2.93e6],[6.567,2.85e6],[6.575,2.77e6],[6.561,2.7e6],[6.571,2.62e6],[6.565,2.56e6],[6.578,2.5e6],
  [6.563,2.44e6],[6.574,2.38e6],[6.569,2.32e6],[6.560,2.27e6],[6.577,2.22e6],[6.566,2.17e6],[6.572,2.12e6],[6.564,2.07e6],
  [6.579,2.02e6],[6.568,1.98e6],[6.562,1.94e6],[6.575,1.9e6],[6.570,1.86e6],[6.567,1.82e6],[6.561,1.78e6],[6.576,1.74e6],
  [6.573,1.71e6],[6.565,1.67e6],[6.578,1.64e6],[6.563,1.61e6],[6.571,1.58e6],[6.569,1.55e6],[6.560,1.52e6],[6.574,1.49e6],
  [6.566,1.46e6],[6.577,1.43e6],[6.564,1.4e6],[6.572,1.37e6],[6.568,1.34e6],[6.579,1.31e6],[6.562,1.28e6],[6.575,1.25e6],
  [6.570,1.22e6],[6.567,1.19e6],[6.561,1.165e6],[6.576,1.14e6],[6.573,1.115e6],[6.565,1.09e6],[6.578,1.065e6],[6.563,1.04e6],
  [6.571,1.015e6],[6.569,9.9e5],[6.560,9.65e5],[6.574,9.4e5],[6.566,9.2e5],[6.577,8.95e5],[6.564,8.7e5],[6.572,8.5e5],
  [6.568,8.25e5],[6.579,8.0e5],[6.562,7.8e5],[6.575,7.55e5],[6.570,7.35e5],[6.567,7.1e5],[6.561,6.85e5],[6.576,6.6e5],
  [6.573,6.4e5],[6.565,6.15e5],[6.578,5.9e5],[6.563,5.7e5],[6.571,5.45e5],[6.569,5.2e5],[6.560,5.0e5],[6.574,4.8e5],
  [6.566,4.55e5],[6.577,4.35e5],[6.564,4.15e5],[6.572,3.95e5],[6.568,3.75e5],[6.579,3.55e5],[6.562,3.35e5],[6.575,3.15e5],
  [6.570,2.95e5],[6.567,2.75e5],[6.576,2.55e5],[6.561,2.35e5],[6.573,2.15e5],[6.565,1.95e5],[6.578,1.75e5],
  [6.583,7.6e6],[6.591,6.8e6],[6.597,6.2e6],[6.585,5.7e6],[6.594,5.3e6],[6.581,5.0e6],[6.589,4.7e6],[6.598,4.45e6],
  [6.586,4.2e6],[6.592,4.0e6],[6.580,3.82e6],[6.588,3.67e6],[6.596,3.52e6],[6.584,3.39e6],[6.593,3.27e6],[6.599,3.16e6],
  [6.582,3.06e6],[6.590,2.97e6],[6.587,2.88e6],[6.595,2.8e6],[6.581,2.72e6],[6.591,2.65e6],[6.585,2.58e6],[6.598,2.52e6],
  [6.583,2.46e6],[6.594,2.4e6],[6.589,2.34e6],[6.580,2.29e6],[6.597,2.24e6],[6.586,2.19e6],[6.592,2.14e6],[6.584,2.09e6],
  [6.599,2.04e6],[6.588,2.0e6],[6.582,1.96e6],[6.595,1.92e6],[6.590,1.88e6],[6.587,1.84e6],[6.581,1.8e6],[6.596,1.76e6],
  [6.593,1.72e6],[6.585,1.69e6],[6.598,1.65e6],[6.583,1.62e6],[6.591,1.59e6],[6.589,1.56e6],[6.580,1.53e6],[6.594,1.5e6],
  [6.586,1.47e6],[6.597,1.44e6],[6.584,1.41e6],[6.592,1.38e6],[6.588,1.355e6],[6.599,1.33e6],[6.582,1.3e6],[6.595,1.27e6],
  [6.590,1.245e6],[6.587,1.22e6],[6.581,1.195e6],[6.596,1.17e6],[6.593,1.145e6],[6.585,1.12e6],[6.598,1.1e6],[6.583,1.075e6],
  [6.591,1.05e6],[6.589,1.03e6],[6.580,1.005e6],[6.594,9.8e5],[6.586,9.6e5],[6.597,9.35e5],[6.584,9.1e5],[6.592,8.9e5],
  [6.588,8.65e5],[6.599,8.45e5],[6.582,8.2e5],[6.595,7.95e5],[6.590,7.75e5],[6.587,7.5e5],[6.581,7.3e5],[6.596,7.05e5],
  [6.593,6.8e5],[6.585,6.55e5],[6.598,6.3e5],[6.583,6.05e5],[6.591,5.85e5],[6.589,5.6e5],[6.580,5.35e5],[6.594,5.1e5],
  [6.586,4.9e5],[6.597,4.65e5],[6.584,4.45e5],[6.592,4.2e5],[6.588,4.0e5],[6.599,3.8e5],[6.582,3.6e5],[6.595,3.4e5],
  [6.590,3.2e5],[6.587,3.0e5],[6.596,2.8e5],[6.581,2.6e5],[6.593,2.4e5],[6.585,2.2e5],[6.598,2.0e5],[6.583,1.8e5]
];

const coreDense = [
  [6.465,2.9e6],[6.472,2.45e6],[6.478,2.05e6],[6.461,1.75e6],[6.469,1.52e6],[6.476,1.31e6],[6.463,1.13e6],[6.471,9.7e5],
  [6.477,8.5e5],[6.466,7.4e5],[6.474,2.68e6],[6.462,2.2e6],[6.468,1.9e6],[6.479,1.6e6],[6.464,1.4e6],[6.473,1.22e6],
  [6.467,1.05e6],[6.475,9.0e5],[6.460,7.9e5],[6.470,6.9e5],
  [6.487,2.95e6],[6.494,2.55e6],[6.481,2.15e6],[6.498,1.85e6],[6.490,1.62e6],[6.484,1.4e6],[6.496,1.22e6],[6.488,1.06e6],
  [6.482,9.2e5],[6.493,8.0e5],[6.486,7.0e5],[6.499,2.35e6],[6.483,1.98e6],[6.491,1.72e6],[6.485,1.5e6],[6.497,1.3e6],
  [6.489,1.13e6],[6.480,9.8e5],[6.495,8.6e5],[6.492,7.5e5],[6.488,3.4e6],[6.483,2.7e6],
  [6.505,3.1e6],[6.512,2.7e6],[6.518,2.3e6],[6.501,2.0e6],[6.509,1.74e6],[6.515,1.5e6],[6.503,1.3e6],[6.511,1.14e6],
  [6.517,9.9e5],[6.507,8.6e5],[6.513,7.5e5],[6.500,2.85e6],[6.516,2.45e6],[6.506,2.12e6],[6.514,1.83e6],[6.502,1.6e6],
  [6.510,1.38e6],[6.519,1.2e6],[6.504,1.05e6],[6.508,9.2e5],[6.516,8.0e5],[6.510,3.5e6],[6.502,7.1e5],
  [6.526,3.2e6],[6.533,2.78e6],[6.539,2.4e6],[6.521,2.08e6],[6.529,1.8e6],[6.536,1.56e6],[6.524,1.36e6],[6.531,1.18e6],
  [6.538,1.02e6],[6.527,8.9e5],[6.534,7.8e5],[6.520,6.8e5],[6.537,2.92e6],[6.523,2.55e6],[6.532,2.2e6],[6.528,1.92e6],
  [6.535,1.66e6],[6.522,1.45e6],[6.530,1.26e6],[6.539,1.1e6],[6.525,9.5e5],[6.533,8.3e5],[6.528,3.6e6],[6.536,7.2e5],
  [6.544,3.3e6],[6.551,2.85e6],[6.558,2.47e6],[6.542,2.14e6],[6.549,1.85e6],[6.556,1.6e6],[6.545,1.39e6],[6.553,1.2e6],
  [6.559,1.04e6],[6.547,9.1e5],[6.554,7.9e5],[6.541,6.9e5],[6.557,3.0e6],[6.543,2.6e6],[6.552,2.25e6],[6.548,1.95e6],
  [6.555,1.7e6],[6.541,1.47e6],[6.550,1.28e6],[6.558,1.12e6],[6.546,9.7e5],[6.553,8.5e5],[6.549,3.7e6],[6.556,7.4e5],
  [6.544,4.2e6],
  [6.564,3.4e6],[6.572,2.93e6],[6.578,2.53e6],[6.561,2.19e6],[6.569,1.9e6],[6.575,1.65e6],[6.563,1.43e6],[6.571,1.24e6],
  [6.577,1.07e6],[6.566,9.3e5],[6.573,8.1e5],[6.560,7.0e5],[6.576,3.05e6],[6.562,2.65e6],[6.570,2.3e6],[6.567,2.0e6],
  [6.574,1.74e6],[6.561,1.51e6],[6.568,1.31e6],[6.579,1.15e6],[6.565,1.0e6],[6.572,8.7e5],[6.568,3.8e6],[6.575,7.6e5],
  [6.563,4.4e6],
  [6.584,3.5e6],[6.591,3.02e6],[6.598,2.6e6],[6.582,2.25e6],[6.589,1.95e6],[6.595,1.69e6],[6.583,1.46e6],[6.590,1.27e6],
  [6.597,1.1e6],[6.586,9.5e5],[6.593,8.3e5],[6.580,7.2e5],[6.596,3.15e6],[6.581,2.72e6],[6.588,2.36e6],[6.594,2.05e6],
  [6.585,1.78e6],[6.599,1.55e6],[6.587,1.34e6],[6.592,1.17e6],[6.583,1.02e6],[6.596,8.9e5],[6.590,3.9e6],[6.594,7.8e5],
  [6.586,4.5e6],[6.599,4.1e6]
];

const coreExtra = [
  [6.404,1.9e6],[6.433,8.8e5],[6.418,2.6e6],[6.447,1.15e6],[6.409,5.4e5],[6.452,3.3e6],[6.426,1.45e6],[6.441,6.2e5],
  [6.415,1.05e6],[6.457,2.05e6],[6.437,4.4e5],[6.421,3.8e6],[6.449,7.7e5],[6.412,1.6e6],[6.444,2.9e6],[6.429,9.6e5],
  [6.455,1.35e6],[6.407,2.3e6],[6.439,1.75e6],[6.423,6.9e5],[6.458,4.8e5],[6.414,3.1e5],[6.435,3.6e5],[6.451,5.6e5],
  [6.427,2.15e6],[6.443,1.27e6],[6.419,8.1e5],[6.454,1.85e6],[6.431,3.4e6],[6.446,2.45e6],[6.403,1.2e6],[6.438,5.0e5],
  [6.456,9.0e5],[6.411,2.75e6],[6.424,4.1e5],[6.448,1.55e6],[6.433,2.6e5],[6.452,2.8e5],[6.417,4.6e6],[6.440,1.0e6],
  [6.463,1.27e6],[6.491,2.35e6],[6.477,7.6e5],[6.485,3.6e6],[6.468,1.93e6],[6.496,9.4e5],[6.472,4.7e5],[6.488,1.48e6],
  [6.461,2.8e6],[6.499,1.1e6],[6.475,2.2e6],[6.482,6.3e5],[6.469,1.62e6],[6.494,3.1e6],[6.479,1.03e6],[6.465,5.5e5],
  [6.487,1.78e6],[6.473,2.55e6],[6.497,6.8e5],[6.462,8.7e5],[6.484,4.2e6],[6.478,1.38e6],[6.493,2.0e6],[6.467,3.5e5],
  [6.481,8.3e5],[6.495,1.25e6],[6.471,2.95e6],[6.489,4.05e5],[6.464,1.68e6],[6.498,2.65e6],[6.476,1.15e6],[6.486,5.9e5],
  [6.460,2.4e6],[6.492,1.58e6],[6.474,7.2e5],[6.483,3.3e6],[6.466,1.02e6],[6.490,8.9e5],[6.480,2.1e6],[6.497,4.6e5],
  [6.470,1.42e6],[6.487,2.75e5],[6.463,3.9e6],[6.494,7.5e5],[6.476,1.85e6],[6.484,1.19e6],[6.468,6.1e5],[6.499,3.4e6],
  [6.473,9.8e5],[6.491,1.33e6],[6.478,2.45e6],[6.465,1.52e6],[6.488,5.3e5],[6.481,2.85e6],[6.495,1.72e6],[6.470,3.2e5],
  [6.486,9.2e5],[6.462,2.15e6],[6.493,1.07e6],[6.477,3.7e6],[6.489,2.25e6],[6.467,8.0e5],[6.483,1.63e6],[6.498,6.5e5],
  [6.474,1.3e6],[6.496,2.05e6],[6.479,4.3e5],[6.461,1.12e6],[6.492,2.6e5],[6.485,1.96e6],
  [6.503,1.33e6],[6.528,2.4e6],[6.514,7.9e5],[6.537,3.5e6],[6.509,1.88e6],[6.522,1.05e6],[6.531,5.6e5],[6.506,2.9e6],
  [6.519,1.57e6],[6.534,9.1e5],[6.501,4.4e5],[6.525,2.05e6],[6.512,1.22e6],[6.539,1.7e6],[6.517,3.3e6],[6.504,6.7e5],
  [6.529,1.38e6],[6.536,2.6e6],[6.508,1.0e6],[6.521,4.1e6],[6.513,2.25e6],[6.532,7.3e5],[6.505,1.52e6],[6.526,8.5e5],
  [6.538,1.15e6],[6.510,3.8e5],[6.523,2.75e6],[6.516,1.8e6],[6.533,4.9e5],[6.502,2.15e6],[6.527,1.27e6],[6.511,5.1e5],
  [6.535,1.95e6],[6.518,9.6e5],[6.507,3.05e6],[6.524,6.1e5],[6.530,1.62e6],[6.515,2.5e6],[6.539,8.2e5],[6.500,1.11e6],
  [6.520,1.45e6],[6.533,3.1e6],[6.509,7.0e5],[6.526,1.74e6],[6.514,4.6e6],[6.537,1.3e6],[6.504,2.35e6],[6.529,9.9e5],
  [6.519,3.2e5],[6.512,1.66e6],[6.535,5.8e5],[6.506,1.21e6],[6.523,2.1e6],[6.531,2.9e6],[6.517,8.8e5],[6.501,1.78e6],
  [6.527,3.9e6],[6.511,1.42e6],[6.538,2.2e6],[6.522,6.6e5],[6.508,2.65e6],[6.534,1.08e6],[6.516,4.3e5],[6.525,1.55e6],
  [6.503,9.3e5],[6.532,2.45e6],[6.520,2.0e6],[6.510,1.9e6],[6.536,7.7e5],[6.513,2.8e5],[6.528,5.3e5],[6.505,3.6e6],
  [6.521,1.17e6],[6.539,3.6e5],[6.515,1.35e6],[6.530,2.3e5],[6.524,8.0e5],[6.502,5.9e5],[6.518,2.55e6],[6.535,1.5e6],
  [6.543,1.3e6],[6.571,2.45e6],[6.556,7.8e5],[6.589,3.4e6],[6.548,1.9e6],[6.582,1.07e6],[6.563,5.7e5],[6.597,2.9e6],
  [6.552,1.57e6],[6.576,9.2e5],[6.541,4.5e5],[6.568,2.05e6],[6.593,1.22e6],[6.559,1.72e6],[6.585,3.3e6],[6.546,6.8e5],
  [6.574,1.38e6],[6.599,2.6e6],[6.554,1.0e6],[6.579,4.1e6],[6.562,2.25e6],[6.591,7.3e5],[6.549,1.52e6],[6.573,8.5e5],
  [6.595,1.15e6],[6.557,3.8e5],[6.584,2.75e6],[6.566,1.8e6],[6.544,4.9e5],[6.588,2.15e6],[6.553,1.27e6],[6.578,5.1e5],
  [6.598,1.95e6],[6.561,9.6e5],[6.583,3.05e6],[6.547,6.1e5],[6.569,1.62e6],[6.592,2.5e6],[6.558,8.2e5],[6.581,1.11e6],
  [6.542,1.45e6],[6.565,3.1e6],[6.596,7.0e5],[6.551,1.74e6],[6.577,4.6e6],[6.587,1.3e6],[6.545,2.35e6],[6.572,9.9e5],
  [6.594,3.2e5],[6.556,1.66e6],[6.580,5.8e5],[6.564,1.21e6],[6.599,2.1e6],[6.548,2.9e6],[6.575,8.8e5],[6.590,1.78e6],
  [6.555,3.9e6],[6.567,1.42e6],[6.586,2.2e6],[6.543,6.6e5],[6.597,2.65e6],[6.570,1.08e6],[6.552,4.3e5],[6.583,1.55e6],
  [6.560,9.3e5],[6.595,2.45e6],[6.547,2.0e6],[6.578,1.9e6],[6.589,7.7e5],[6.558,2.8e5],[6.574,5.3e5],[6.541,3.6e6],
  [6.592,1.17e6],[6.566,3.6e5],[6.553,1.35e6],[6.585,2.3e5],[6.571,8.0e5],[6.598,5.9e5],[6.549,2.55e6],[6.582,1.5e6],
  [6.563,4.4e6],[6.594,4.3e6],[6.576,5.0e6],[6.545,3.9e5],[6.588,4.6e5],[6.561,2.6e5],[6.599,3.7e5],[6.568,2.9e5],
  [6.581,2.6e5],[6.554,2.4e5],[6.593,1.95e5],[6.577,2.1e5],[6.586,3.0e5],[6.573,6.2e6],[6.590,5.6e6],[6.559,5.4e6],
  [6.596,1.4e6],[6.544,1.05e6],[6.570,1.75e6],[6.587,8.6e5],[6.551,2.15e6],[6.579,2.7e6],[6.564,7.1e5],[6.598,1.02e6],
  [6.557,3.1e6],[6.584,6.4e5],[6.542,1.7e6],[6.575,3.7e6],[6.591,4.9e5],[6.562,1.3e6]
];

const lowerTail = [
  [6.278,2.2e5],[6.276,1.9e5],[6.312,1.55e5],[6.313,1.5e5],[6.324,1.45e5],[6.362,8.3e4],[6.372,6.2e4],[6.369,1.55e5],
  [6.369,1.35e5],[6.381,3.2e4],[6.388,4.7e4],[6.389,3.9e4],[6.399,3.9e4],[6.409,4.3e4],[6.402,3.0e4],[6.404,3.0e4],
  [6.308,2.6e4],[6.320,2.9e4],[6.362,2.2e4],[6.381,9.1e3],[6.405,8.1e4],[6.426,7.8e4],[6.431,7.1e4],[6.447,4.0e4],
  [6.431,2.45e4],[6.444,1.95e4],[6.476,8.3e4],[6.482,6.6e4],[6.473,5.4e4],[6.477,4.3e4],[6.482,4.0e4],[6.486,4.2e4],
  [6.476,2.95e4],[6.475,2.6e4],[6.473,2.2e4],[6.483,2.35e4],[6.499,5.75e4],[6.503,5.25e4],[6.498,4.6e4],[6.509,3.5e4],
  [6.518,2.8e4],[6.519,2.35e4],[6.497,1.45e4],[6.526,1.4e4],[6.519,9.8e3],[6.527,6.9e4],[6.525,5.5e4],[6.532,4.2e4],
  [6.531,3.0e4],[6.540,4.9e4],[6.550,5.1e4],[6.553,5.4e4],[6.550,2.6e4],[6.561,2.35e4],[6.563,1.86e4],[6.572,1.55e4],
  [6.587,1.9e4],[6.559,6.0e4],[6.569,5.9e4],[6.580,6.0e4],[6.572,5.4e4],[6.569,4.2e4],[6.573,4.3e4],[6.582,3.9e4],
  [6.586,3.6e4],[6.596,4.0e4],[6.580,3.3e4],[6.595,3.1e4],[6.578,3.0e4],[6.566,3.4e4],[6.573,3.1e4],[6.549,4.5e4],
  [6.534,6.5e4],[6.526,9.1e4],[6.569,8.5e4],[6.574,9.1e4],[6.579,1.12e5],[6.575,1.1e5],[6.563,1.38e5],[6.569,1.41e5],
  [6.585,1.15e5],[6.595,1.41e5],[6.598,1.74e5],[6.599,2.0e5],[6.509,9.5e4],[6.517,9.8e4],[6.526,1.12e5],[6.529,1.32e5],
  [6.532,1.29e5],[6.537,1.07e5],[6.532,1.48e5],[6.505,1.35e5],[6.513,1.23e5],[6.496,1.2e5],[6.475,1.58e5],[6.485,1.58e5],
  [6.446,1.35e5],[6.456,1.35e5],[6.461,1.32e5],[6.429,1.51e5],[6.440,1.66e5],[6.449,1.86e5],[6.405,1.62e5],[6.388,2.1e5],
  [6.392,1.86e5],[6.366,2.0e5],[6.368,2.45e5],[6.363,2.75e5],[6.377,2.45e5],[6.384,2.35e5],[6.332,2.45e5],[6.299,2.45e5],
  [6.288,2.8e5],[6.291,2.7e5],[6.313,2.4e5],[6.342,2.55e5],[6.335,2.9e5],[6.469,1.86e3],[6.532,7.1e3],[6.562,1.8e4],
  [6.572,1.6e4],[6.491,4.67e4],[6.502,4.95e4],[6.512,5.0e4],[6.493,3.6e4],[6.527,6.9e4],[6.534,5.4e4],[6.540,6.0e4],
  [6.544,7.4e4],[6.557,5.9e4],[6.563,4.0e4],[6.564,4.4e4],[6.571,4.1e4],[6.583,3.3e4],[6.586,4.4e4],[6.593,4.6e4],
  [6.597,3.5e4],[6.555,3.6e4],[6.567,3.55e4],[6.577,3.1e4],[6.511,2.7e4],[6.516,2.8e4],[6.526,2.9e4],[6.530,3.0e4],
  [6.511,2.05e5],[6.518,1.66e5],[6.526,1.86e5],[6.532,1.74e5],[6.538,1.15e5],[6.550,1.66e5],[6.560,1.38e5],[6.568,1.41e5],
  [6.590,1.32e5],[6.594,1.15e5],[6.586,1.74e5],[6.362,2.75e5],[6.370,1.55e5],[6.371,1.35e5],[6.391,2.1e5],[6.393,1.86e5],
  [6.406,1.62e5],[6.418,2.35e5],[6.440,1.7e5],[6.447,1.35e5],[6.458,1.29e5],[6.491,1.45e5],[6.496,1.18e5]
];

const scatterPoints = [].concat(sparseLeft, midScatter, upperBand, bandExtra, coreCloud, coreDense, coreExtra, lowerTail);

// minor ticks at k·10^e on the logarithmic cost axis (the labelled decades are drawn by the axis itself)
const minorTickValues = [];
minorTickDecades.forEach(function (e) {
  minorTickMantissas.forEach(function (k) {
    if (k === 1 && e % costLabelStepDecades === 0) return;
    minorTickValues.push([magnitudeRange[0], k * Math.pow(10, e)]);
  });
});

const serif = '"Liberation Serif", "Times New Roman", serif';
const inkColor = '#262626';
const frameDark = '#404040';
const frameLight = '#9a9a9a';

const chart = echarts.init(document.getElementById('chart'), null, { renderer: 'canvas' });

chart.setOption({
  animation: false,
  backgroundColor: '#ffffff',
  grid: { left: 133, right: 44, top: 33, bottom: 117, containLabel: false },
  legend: {
    data: ['User cost target'],
    left: 144,
    top: 49,
    icon: 'rect',
    itemWidth: 41,
    itemHeight: 3,
    selectedMode: false,
    textStyle: { fontFamily: serif, fontSize: 41, color: '#000000' }
  },
  xAxis: [
    {
      type: 'value',
      min: magnitudeRange[0],
      max: magnitudeRange[1],
      interval: magnitudeStep,
      position: 'bottom',
      name: '{n|Magnitude }{i|m}',
      nameLocation: 'middle',
      nameGap: 66,
      nameTextStyle: {
        rich: {
          n: { fontFamily: serif, fontSize: 48, color: inkColor },
          i: { fontFamily: serif, fontSize: 48, fontStyle: 'italic', color: inkColor }
        }
      },
      axisLine: { show: true, lineStyle: { color: frameDark, width: 1 } },
      axisTick: { show: true, inside: true, length: 12, lineStyle: { color: frameDark, width: 1 } },
      axisLabel: { margin: 14, fontFamily: serif, fontSize: 45, color: inkColor },
      splitLine: { show: false }
    },
    {
      type: 'value',
      min: magnitudeRange[0],
      max: magnitudeRange[1],
      interval: magnitudeStep,
      position: 'top',
      axisLine: { show: true, lineStyle: { color: frameLight, width: 1 } },
      axisTick: { show: true, inside: true, length: 12, lineStyle: { color: frameDark, width: 1 } },
      axisLabel: { show: false },
      splitLine: { show: false }
    }
  ],
  yAxis: [
    {
      type: 'log',
      logBase: 10,
      min: costRange[0],
      max: costRange[1],
      interval: costLabelStepDecades,
      position: 'left',
      name: '{n|User cost  }{i|C}{n| [€]}',
      nameLocation: 'middle',
      nameGap: 74,
      nameRotate: 90,
      nameTextStyle: {
        rich: {
          n: { fontFamily: serif, fontSize: 48, color: inkColor },
          i: { fontFamily: serif, fontSize: 48, fontStyle: 'italic', color: inkColor }
        }
      },
      axisLine: { show: true, lineStyle: { color: frameDark, width: 1 } },
      axisTick: { show: true, inside: true, length: 12, lineStyle: { color: frameDark, width: 1 } },
      axisLabel: {
        margin: 15,
        padding: [12, 0, 0, 0],
        formatter: function (v) {
          return '{b|10}{s|' + Math.round(Math.log10(v)) + '}';
        },
        rich: {
          b: { fontFamily: serif, fontSize: 45, color: inkColor, padding: [6, 0, 0, 0] },
          s: { fontFamily: serif, fontSize: 28, color: inkColor, verticalAlign: 'top' }
        }
      },
      splitLine: { show: false },
      minorTick: { show: false }
    },
    {
      type: 'log',
      logBase: 10,
      min: costRange[0],
      max: costRange[1],
      interval: costLabelStepDecades,
      position: 'right',
      axisLine: { show: true, lineStyle: { color: frameLight, width: 1 } },
      axisTick: { show: true, inside: true, length: 12, lineStyle: { color: frameDark, width: 1 } },
      axisLabel: { show: false },
      splitLine: { show: false }
    }
  ],
  graphic: [
    {
      type: 'text',
      x: 165,
      y: 508,
      scaleX: 1.15,
      z: 10,
      style: {
        text: '{t|t}{s|0}{n| = 0 years}',
        align: 'left',
        verticalAlign: 'middle',
        rich: {
          t: { fontFamily: serif, fontSize: 43, fontStyle: 'italic', fill: '#000000', padding: [0, 0, 10, 0] },
          s: { fontFamily: serif, fontSize: 28, fill: '#000000', verticalAlign: 'bottom' },
          n: { fontFamily: serif, fontSize: 43, fill: '#000000', padding: [0, 0, 10, 0] }
        }
      }
    }
  ],
  series: [
    {
      name: 'minor ticks',
      type: 'custom',
      xAxisIndex: 0,
      yAxisIndex: 0,
      silent: true,
      clip: false,
      z: 1,
      data: minorTickValues,
      renderItem: function (params, api) {
        const y = Math.round(api.coord([api.value(0), api.value(1)])[1]) + 0.5;
        const cs = params.coordSys;
        const xl = Math.round(cs.x) + 0.5;
        const xr = Math.round(cs.x + cs.width) - 0.5;
        return {
          type: 'group',
          children: [
            { type: 'line', shape: { x1: xl, y1: y, x2: xl + 6, y2: y }, style: { stroke: '#6a6a6a', lineWidth: 1 } },
            { type: 'line', shape: { x1: xr, y1: y, x2: xr - 6, y2: y }, style: { stroke: '#6a6a6a', lineWidth: 1 } }
          ]
        };
      }
    },
    {
      name: 'User cost target',
      type: 'line',
      xAxisIndex: 0,
      yAxisIndex: 0,
      data: [[magnitudeRange[0], targetCost], [magnitudeRange[1], targetCost]],
      symbol: 'none',
      lineStyle: { color: '#ff0000', width: 3 },
      itemStyle: { color: '#ff0000' },
      z: 2,
      silent: true
    },
    {
      name: 'events',
      type: 'scatter',
      xAxisIndex: 0,
      yAxisIndex: 0,
      data: scatterPoints,
      symbol: 'circle',
      symbolSize: 3.8,
      itemStyle: { color: '#383838', opacity: 1 },
      z: 3,
      silent: true
    }
  ]
});
</script>
</body>
</html>
